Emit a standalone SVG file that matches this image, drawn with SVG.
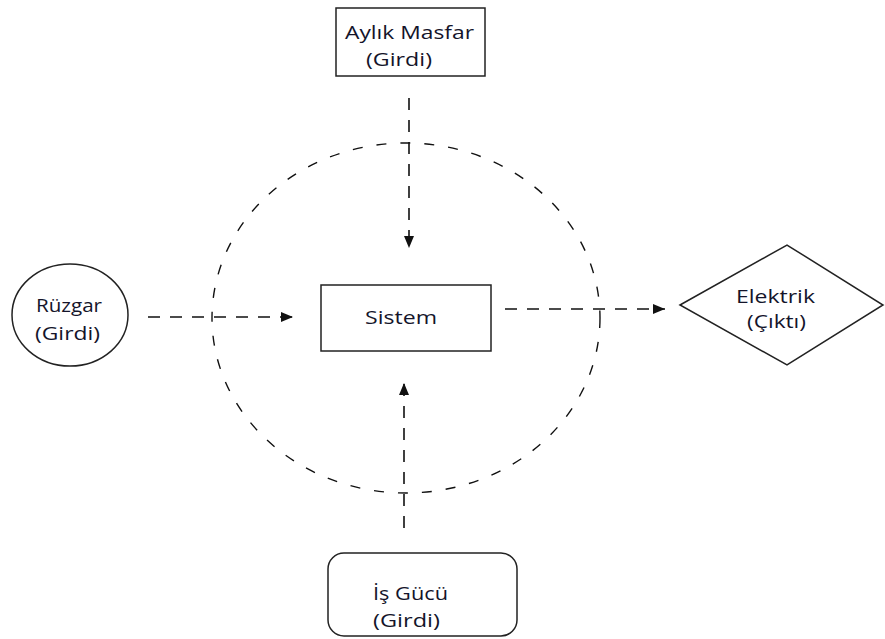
<svg xmlns="http://www.w3.org/2000/svg" width="885" height="639" viewBox="0 0 885 639">
<style>
.box{fill:#fff;stroke:#222;stroke-width:1.5}
.lbl{font-family:"Open Sans","Liberation Sans",sans-serif;font-size:19px;fill:#14142a}
.dash{fill:none;stroke:#111;stroke-width:1.6;stroke-dasharray:12 10}
.circ{fill:none;stroke:#111;stroke-width:1.4;stroke-dasharray:10 14}
</style>
<defs>
<marker id="ah" viewBox="0 0 12 10" refX="12" refY="5" markerWidth="12" markerHeight="10" markerUnits="userSpaceOnUse" orient="auto">
<path d="M0,0 L12,5 L0,10 Z" fill="#111"/>
</marker>
</defs>
<rect width="885" height="639" fill="#fff"/>
<ellipse id="boundary" cx="406" cy="318" rx="194" ry="175" class="circ"/>
<g id="aylik">
<rect class="box" x="336" y="8" width="149" height="68"/>
<text class="lbl" x="345" y="39" textLength="129" lengthAdjust="spacingAndGlyphs">Aylık Masfar</text>
<text class="lbl" x="366" y="66" textLength="66" lengthAdjust="spacingAndGlyphs">(Girdi)</text>
</g>
<g id="sistem">
<rect class="box" x="321" y="285" width="170" height="66"/>
<text class="lbl" x="365" y="324" textLength="72" lengthAdjust="spacingAndGlyphs">Sistem</text>
</g>
<g id="ruzgar">
<ellipse class="box" cx="70" cy="315" rx="58" ry="51"/>
<text class="lbl" x="36" y="312" textLength="66" lengthAdjust="spacingAndGlyphs">Rüzgar</text>
<text class="lbl" x="35" y="340" textLength="65" lengthAdjust="spacingAndGlyphs">(Girdi)</text>
</g>
<g id="elektrik">
<polygon class="box" points="680,305 787,245 883,305 787,365"/>
<text class="lbl" x="736" y="303" textLength="79" lengthAdjust="spacingAndGlyphs">Elektrik</text>
<text class="lbl" x="747" y="328" textLength="59" lengthAdjust="spacingAndGlyphs">(Çıktı)</text>
</g>
<g id="isgucu">
<rect class="box" x="328" y="553" width="189" height="83" rx="16" ry="16"/>
<text class="lbl" x="373" y="600" textLength="75" lengthAdjust="spacingAndGlyphs">İş Gücü</text>
<text class="lbl" x="373" y="627" textLength="67" lengthAdjust="spacingAndGlyphs">(Girdi)</text>
</g>
<g id="connectors">
<line class="dash" x1="409" y1="98" x2="409" y2="248" marker-end="url(#ah)"/>
<line class="dash" x1="148" y1="317" x2="293" y2="317" marker-end="url(#ah)"/>
<line class="dash" x1="505" y1="309" x2="665" y2="309" marker-end="url(#ah)"/>
<line class="dash" x1="404" y1="528" x2="404" y2="383" marker-end="url(#ah)"/>
</g>
</svg>
